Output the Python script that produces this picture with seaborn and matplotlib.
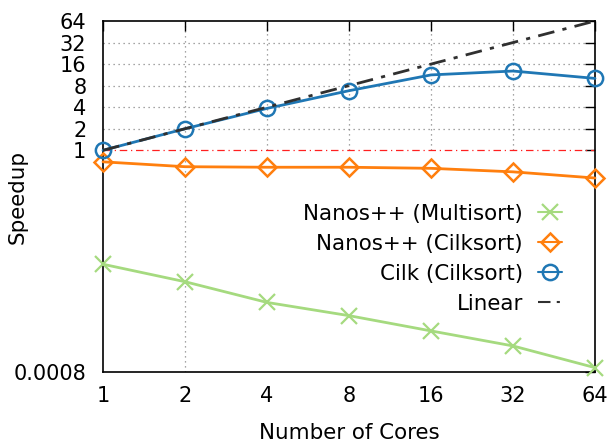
import numpy as np
import pandas as pd
import matplotlib
matplotlib.use("Agg")
import matplotlib.pyplot as plt
import seaborn as sns

cores = [1, 2, 4, 8, 16, 32, 64]
nanos_multisort = [0.0256, 0.0146, 0.0075, 0.0049, 0.0030, 0.00185, 0.00092]
nanos_cilksort = [0.69, 0.59, 0.58, 0.58, 0.56, 0.50, 0.41]
cilk_cilksort = [1.0, 2.0, 3.85, 6.8, 11.3, 12.8, 10.1]
linear = [1, 2, 4, 8, 16, 32, 64]
ytick_vals = [0.0008, 1, 2, 4, 8, 16, 32, 64]
ytick_labels = ["0.0008", "1", "2", "4", "8", "16", "32", "64"]
xtick_labels = ["1", "2", "4", "8", "16", "32", "64"]

sns.set_theme(style="white")
plt.rcParams['font.family'] = ['DejaVu Sans']
plt.rcParams['text.color'] = 'black'
plt.rcParams['axes.labelcolor'] = 'black'
FS = 15
LFS = 15.4

df = pd.DataFrame({"cores": cores, "multi": nanos_multisort, "nc": nanos_cilksort,
                   "cilk": cilk_cilksort, "lin": linear})

fig = plt.figure(figsize=(6.1, 4.44), dpi=100)
ax = fig.add_axes([103/610, 1-372/444, (595-103)/610, (372-21)/444])
ax.set_xscale("log", base=2)
ax.set_yscale("log", base=2)

# grid
for x in cores[1:-1]:
    lo = 0.0008 if x == 2 else 1
    ax.vlines(x, lo, 64, colors="#888888", linestyles=(0, (1, 3)), linewidth=0.9, zorder=0)
for y in ytick_vals[2:-1]:
    ax.hlines(y, 1, 64, colors="#888888", linestyles=(0, (1, 3)), linewidth=0.9, zorder=0)
ax.axhline(1, color="#ff2020", linestyle=(0, (6, 3, 1, 3)), linewidth=0.9, zorder=1)

green = "#a5da7f"
orange = "#ff7f0e"
blue = "#1f77b4"

sns.lineplot(data=df, x="cores", y="multi", ax=ax, color=green, marker="x", markersize=11,
             markeredgecolor=green, markeredgewidth=1.6, linewidth=2,
             label="Nanos++ (Multisort)", zorder=3, clip_on=False)
sns.lineplot(data=df, x="cores", y="nc", ax=ax, color=orange, marker="D", markersize=9,
             markerfacecolor="none", markeredgecolor=orange, markeredgewidth=1.8, linewidth=2,
             label="Nanos++ (Cilksort)", zorder=3, clip_on=False)
sns.lineplot(data=df, x="cores", y="cilk", ax=ax, color=blue, marker="o", markersize=11,
             markerfacecolor="none", markeredgecolor=blue, markeredgewidth=1.8, linewidth=2,
             label="Cilk (Cilksort)", zorder=3, clip_on=False)
sns.lineplot(data=df, x="cores", y="lin", ax=ax, color="#303030", linestyle=(0, (6, 3, 1.5, 3)),
             linewidth=2, label="Linear", zorder=4)

ax.set_xlim(1, 64)
ax.set_ylim(0.0008, 64)
ax.set_xticks(cores)
ax.set_xticklabels(xtick_labels)
ax.set_yticks(ytick_vals)
ax.set_yticklabels(ytick_labels)
ax.minorticks_off()
ax.tick_params(axis="both", which="major", direction="in", length=7, width=1,
               top=True, right=True, labelsize=FS, colors="black")
ax.tick_params(axis="x", pad=10)
ax.tick_params(axis="y", pad=12)
for s in ax.spines.values():
    s.set_color("black")
    s.set_linewidth(1.2)
    s.set_visible(True)

ax.set_xlabel("Number of Cores", fontsize=LFS, labelpad=12)
ax.set_ylabel("Speedup", fontsize=LFS)
ax.yaxis.set_label_coords((28-103)/492, 0.5)

leg = ax.legend(loc="upper right", bbox_to_anchor=(571/610, 1-195/444), bbox_transform=fig.transFigure,
                frameon=False, markerfirst=False, handlelength=1.15, handletextpad=0.7,
                labelspacing=0.47, fontsize=LFS, borderaxespad=0)
for line in leg.get_lines():
    line.set_linewidth(1.5)

fig.savefig("out.png", dpi=100)
